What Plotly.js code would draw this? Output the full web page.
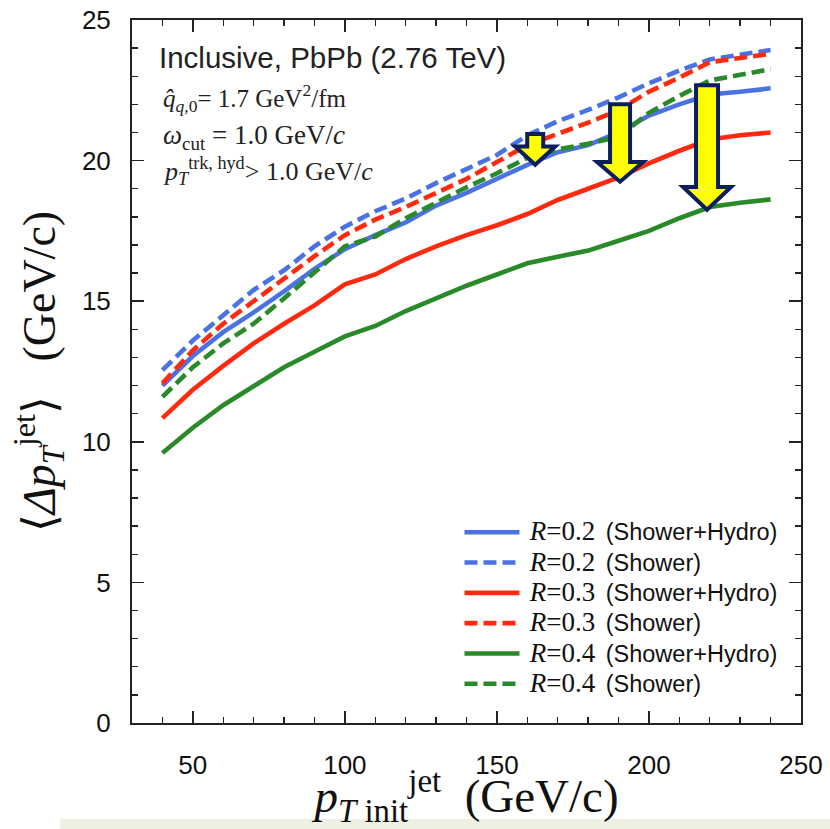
<!DOCTYPE html>
<html>
<head>
<meta charset="utf-8">
<script src="https://cdn.plot.ly/plotly-3.0.1.min.js"></script>
<style>html,body{margin:0;padding:0;background:#fff;}#chart{width:830px;height:829px;}</style>
</head>
<body>
<div id="chart"></div>
<script>
// ---- data ----
const pTinit = [40,50,60,70,80,90,100,110,120,130,140,150,160,170,180,190,200,210,220,230,240];

const r02_showerHydro = [12.0,13.05,13.9,14.6,15.35,16.15,16.85,17.35,17.8,18.4,18.85,19.35,19.85,20.3,20.55,21.0,21.6,22.0,22.35,22.45,22.57];
const r02_shower      = [12.55,13.6,14.5,15.4,16.1,16.95,17.65,18.2,18.65,19.2,19.7,20.2,20.9,21.4,21.8,22.25,22.75,23.2,23.6,23.75,23.93];
const r03_showerHydro = [10.84,11.85,12.7,13.5,14.2,14.85,15.6,15.95,16.5,16.95,17.35,17.7,18.1,18.6,19.0,19.4,19.9,20.35,20.75,20.9,21.0];
const r03_shower      = [12.08,13.25,14.2,15.0,15.85,16.6,17.35,17.9,18.35,18.85,19.35,19.95,20.55,20.95,21.35,21.8,22.45,22.95,23.5,23.65,23.8];
const r04_showerHydro = [9.6,10.5,11.3,11.96,12.65,13.2,13.75,14.12,14.65,15.1,15.55,15.95,16.35,16.58,16.8,17.15,17.5,17.95,18.35,18.5,18.62];
const r04_shower      = [11.6,12.65,13.5,14.2,15.1,16.0,16.95,17.3,17.95,18.5,19.05,19.55,20.1,20.4,20.6,20.85,21.7,22.3,22.85,23.05,23.25];

const seriesNames = [
  'R=0.2 (Shower+Hydro)','R=0.2 (Shower)',
  'R=0.3 (Shower+Hydro)','R=0.3 (Shower)',
  'R=0.4 (Shower+Hydro)','R=0.4 (Shower)'
];

// illustrative arrows (center x, top y, head-base y, tip y)
const arrowX    = [162.6, 190.5, 219.1];
const arrowTop  = [20.95, 22.0, 22.68];
const arrowBase = [20.5, 19.95, 19.06];
const arrowTip  = [19.85, 19.25, 18.25];
const arrowShaftHalf = [8, 10, 11];
const arrowHeadHalf  = [20, 23, 24];

// ---- styling ----
const BLUE = '#4a72e3', RED = '#ff2a10', GREEN = '#2a8a2a';
const styles = [
  {c: BLUE, d: 'solid'}, {c: BLUE, d: '13px,6px'},
  {c: RED, d: 'solid'},  {c: RED, d: '13px,6px'},
  {c: GREEN, d: 'solid'},{c: GREEN, d: '13px,6px'}
];
const allY = [r02_showerHydro, r02_shower, r03_showerHydro, r03_shower, r04_showerHydro, r04_shower];

const serif = "'Liberation Serif', 'Times New Roman', serif";
const sans = "'Liberation Sans', Arial, sans-serif";

function legendLabel(name) {
  const m = name.match(/^R=([0-9.]+) \((.*)\)$/);
  return '&nbsp;<span style="font-size:27px"><i>R</i>=' + m[1] + '</span>&nbsp; <span style="font-family:\'Liberation Sans\', Arial;font-size:23.5px">(' + m[2] + ')</span>';
}

const traces = allY.map((y, i) => ({
  x: pTinit, y: y, type: 'scatter', mode: 'lines',
  name: legendLabel(seriesNames[i]),
  line: {color: styles[i].c, width: 4.6, dash: styles[i].d, shape: 'linear'}
}));

const shapes = arrowX.map((cx, i) => {
  const s = arrowShaftHalf[i], h = arrowHeadHalf[i];
  return {
    type: 'path', xref: 'x', yref: 'y', xsizemode: 'pixel', xanchor: cx,
    path: `M${-s},${arrowTop[i]} L${s},${arrowTop[i]} L${s},${arrowBase[i]} L${h},${arrowBase[i]} L0,${arrowTip[i]} L${-h},${arrowBase[i]} L${-s},${arrowBase[i]} Z`,
    fillcolor: '#ffff00', line: {color: '#0b1e5e', width: 4}, layer: 'above'
  };
});

const W = 830, H = 829, ML = 132, MR = 29, MT = 20, MB = 106;
const plotW = W - ML - MR, plotH = H - MT - MB;
// light band at the bottom of the picture (pixel geometry converted to paper units)
shapes.push({type: 'rect', xref: 'paper', yref: 'paper',
  x0: (60 - ML) / plotW, x1: (W + 10 - ML) / plotW,
  y0: -(H + 10 - (MT + plotH)) / plotH, y1: -(819 - (MT + plotH)) / plotH,
  line: {width: 0}, fillcolor: '#eef0e4', layer: 'above'});

const axisCommon = {
  ticks: 'inside', ticklen: 12, tickwidth: 1.6, tickcolor: '#222',
  showline: true, linecolor: '#222', linewidth: 2, mirror: 'ticks',
  showgrid: false, zeroline: false,
  tickfont: {family: sans, size: 26, color: '#111'}
};

const layout = {
  width: W, height: H,
  margin: {l: ML, r: MR, t: MT, b: MB},
  paper_bgcolor: '#fff', plot_bgcolor: '#fff',
  showlegend: true,
  legend: {
    x: 0.4895, y: 0.30, xanchor: 'left', yanchor: 'top',
    font: {family: serif, size: 21, color: '#111'},
    bgcolor: 'rgba(0,0,0,0)', borderwidth: 0, itemwidth: 55, tracegroupgap: 0
  },
  xaxis: Object.assign({}, axisCommon, {
    range: [30, 250], tickmode: 'linear', tick0: 50, dtick: 50,
    minor: {dtick: 10, tick0: 0, ticks: 'inside', ticklen: 6, tickwidth: 1.4, tickcolor: '#222', showgrid: false},
    ticklabelstandoff: 18,
    title: {text: '<i>p</i><sub><i>T</i> init</sub><sup>jet</sup>&nbsp; (GeV/c)', font: {family: serif, size: 47, color: '#111'}, standoff: 2}
  }),
  yaxis: Object.assign({}, axisCommon, {
    range: [0, 25], tickmode: 'linear', tick0: 0, dtick: 5,
    minor: {dtick: 1, tick0: 0, ticks: 'inside', ticklen: 6, tickwidth: 1.4, tickcolor: '#222', showgrid: false},
    ticklabelstandoff: 14,
    title: {text: '⟨<i>Δp</i><sub><i>T</i></sub><sup>jet</sup>⟩&nbsp;&nbsp; (GeV/c)', font: {family: serif, size: 46, color: '#111'}, standoff: 12}
  }),
  shapes: shapes,
  annotations: [
    {xref: 'paper', yref: 'paper', x: 0.038, y: 0.946, xanchor: 'left', yanchor: 'middle', showarrow: false,
     text: 'Inclusive, PbPb (2.76 TeV)', font: {family: sans, size: 29.5, color: '#222'}},
    {xref: 'paper', yref: 'paper', x: 0.043, y: 0.889, xanchor: 'left', yanchor: 'middle', showarrow: false,
     text: '<i>q̂</i><sub><i>q</i>,0</sub>= 1.7 GeV<sup>2</sup>/fm', font: {family: serif, size: 25, color: '#222'}},
    {xref: 'paper', yref: 'paper', x: 0.043, y: 0.834, xanchor: 'left', yanchor: 'middle', showarrow: false,
     text: '<i>ω</i><sub>cut</sub> = 1.0 GeV/<i>c</i>', font: {family: serif, size: 27, color: '#222'}},
    {xref: 'paper', yref: 'paper', x: 0.043, y: 0.785, xanchor: 'left', yanchor: 'middle', showarrow: false,
     text: '<i>p</i><sub><i>T</i></sub><sup>trk, hyd</sup>> 1.0 GeV/<i>c</i>', font: {family: serif, size: 26, color: '#222'}}
  ]
};

Plotly.newPlot('chart', traces, layout, {displayModeBar: false, staticPlot: true});
</script>
</body>
</html>
